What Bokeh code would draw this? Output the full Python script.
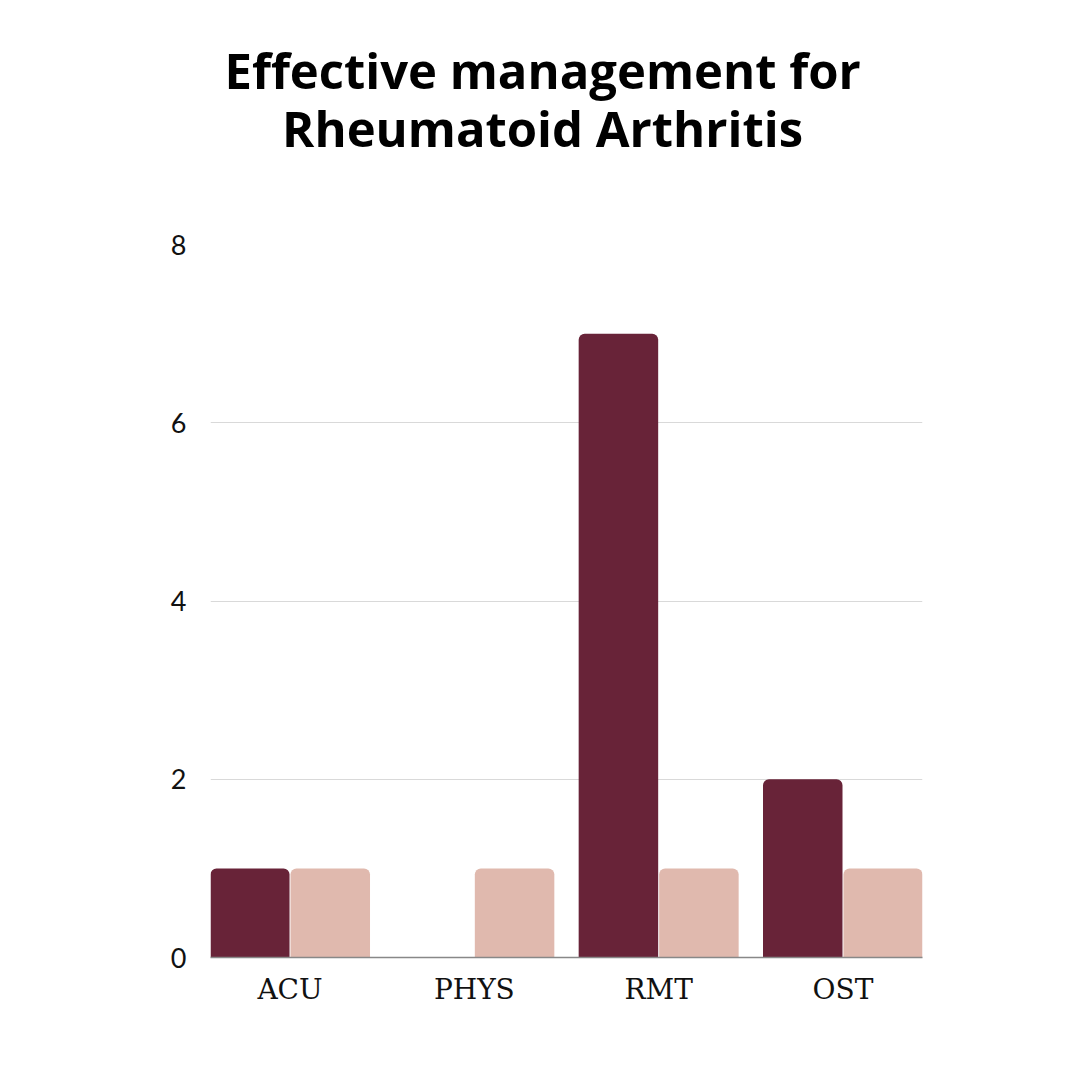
from bokeh.plotting import figure
from bokeh.layouts import column
from bokeh.models import FactorRange, Range1d, FixedTicker, ColumnDataSource
from bokeh.core.properties import value
from bokeh.transform import dodge
from bokeh.embed import file_html
from bokeh.resources import INLINE

categories = ["ACU", "PHYS", "RMT", "OST"]
series_a = [1, 0, 7, 2]
series_b = [1, 1, 1, 1]
y_ticks = [0, 2, 4, 6, 8]
title_lines = ["Effective management for", "Rheumatoid Arthritis"]

dark = "#682338"
light = "#E0B9AE"

W = 1072
TH = 200

# ---- title strip ----
tf = figure(width=W, height=TH, output_backend="svg", toolbar_location=None,
            x_range=Range1d(0, W), y_range=Range1d(TH, 0),
            min_border_left=0, min_border_right=0, min_border_top=0, min_border_bottom=0,
            x_axis_type=None, y_axis_type=None)
tf.grid.grid_line_color = None
tf.outline_line_color = None
tsrc = ColumnDataSource(dict(x=[500, 500], y=[69, 127], t=title_lines))
tf.text(x="x", y="y", text="t", source=tsrc, text_align="center", text_baseline="alphabetic",
        text_font=value("Open Sans"), text_font_size="49px", text_font_style="bold",
        text_color="#000000")

# ---- chart ----
src = ColumnDataSource(dict(cat=categories, a=series_a, b=series_b))

p = figure(width=W, height=W - TH, output_backend="svg", toolbar_location=None,
           x_range=FactorRange(factors=categories, range_padding=-0.0686, range_padding_units="absolute"),
           y_range=Range1d(0, 8),
           min_border_left=210, min_border_right=150, min_border_top=244 - TH, min_border_bottom=115)

p.vbar(x=dodge("cat", -0.2183, range=p.x_range), top="a", width=0.4314, source=src,
       color=dark, line_color=None, border_radius=(6, 6, 0, 0))
p.vbar(x=dodge("cat", 0.2183, range=p.x_range), top="b", width=0.4314, source=src,
       color=light, line_color=None, border_radius=(6, 6, 0, 0))

p.outline_line_color = None
p.background_fill_color = "white"
p.xgrid.grid_line_color = None
p.ygrid.grid_line_color = "#d9d9d9"
p.ygrid.grid_line_width = 1
p.yaxis.ticker = FixedTicker(ticks=y_ticks)
p.yaxis.axis_line_color = None
p.yaxis.major_tick_line_color = None
p.yaxis.minor_tick_line_color = None
p.yaxis.major_label_text_font = "Lato"
p.yaxis.major_label_text_font_size = "27px"
p.yaxis.major_label_text_color = "#111111"
p.yaxis.major_label_standoff = 18

p.xaxis.axis_line_color = "#888888"
p.xaxis.axis_line_width = 1.5
p.xaxis.major_tick_line_color = None
p.xaxis.minor_tick_line_color = None
p.xaxis.major_label_text_font = "DejaVu Serif"
p.xaxis.major_label_text_font_size = "28px"
p.xaxis.major_label_text_color = "#111111"
p.xaxis.major_label_standoff = 9

layout = column(tf, p, spacing=0)
open("out.html", "w").write(file_html(layout, INLINE))
